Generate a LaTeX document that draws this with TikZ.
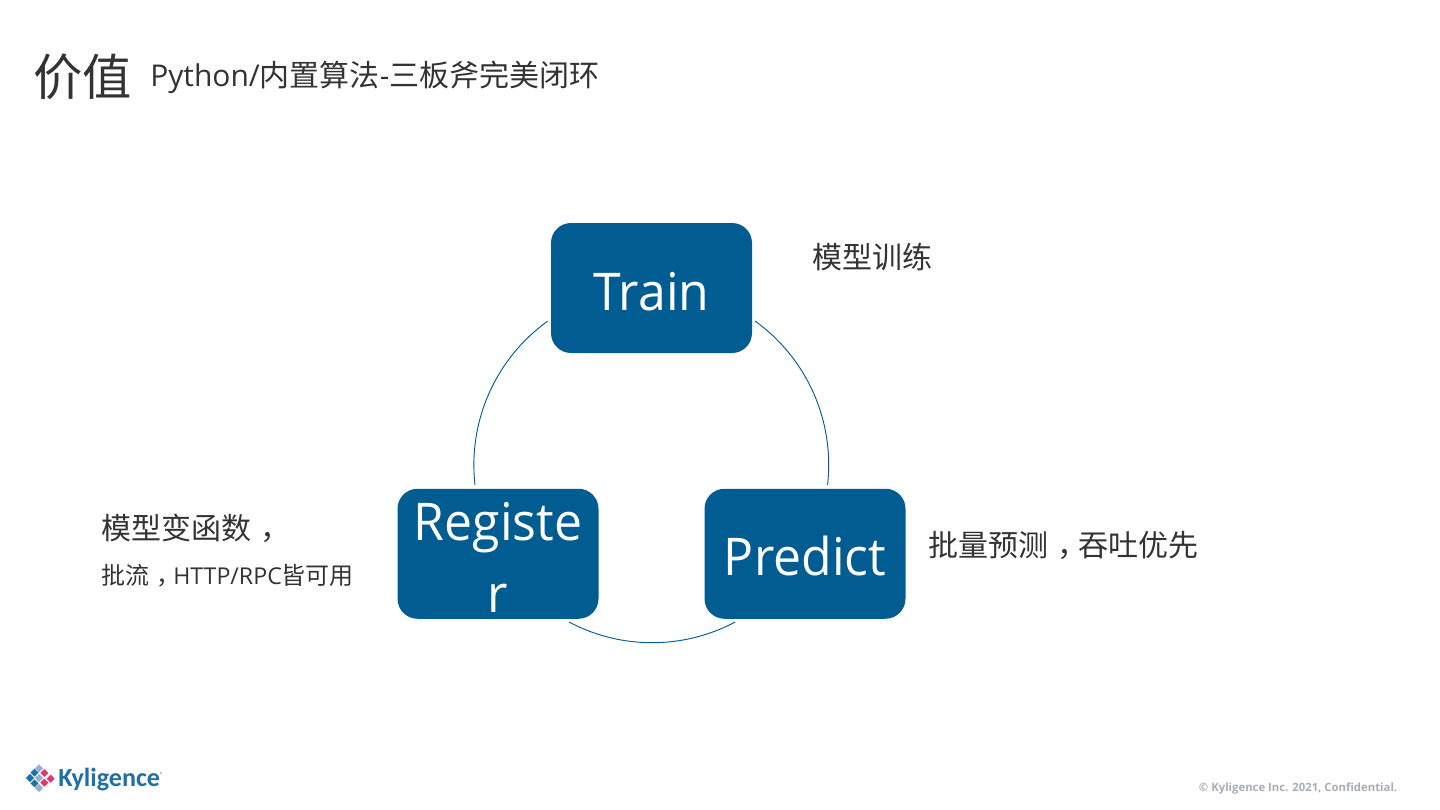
\documentclass[tikz,border=0pt]{standalone}
\usepackage{fontspec}
\setmainfont{Open Sans}
\newfontfamily\cjk{Noto Sans CJK SC}
\newfontfamily\boxfont[FakeStretch=0.96]{Open Sans}
\newfontfamily\logofont{Carlito}
\newcommand{\cc}{\kern0.3em ，\kern-0.3em}
\definecolor{kblue}{HTML}{005C91}
\definecolor{ktext}{HTML}{333333}
\definecolor{kgray}{HTML}{A6AEB4}
\definecolor{kdark}{HTML}{1F6FA8}
\definecolor{klight}{HTML}{8FB2D6}
\definecolor{kpink}{HTML}{E0386F}
\usetikzlibrary{shapes.geometric}
\tikzset{
  px/.style={x=0.75pt,y=-0.75pt},
  box/.style={fill=kblue,rounded corners=15pt,minimum width=150.75pt,minimum height=97.5pt,inner sep=0pt,text=white,font=\fontsize{39}{54}\selectfont\boxfont,align=center},
  lab/.style={anchor=base west,inner sep=0pt,text=ktext},
  ring/.style={draw=kblue,line width=0.7pt},
  dia/.style={diamond,minimum size=6.2pt,inner sep=0pt},
}
\begin{document}
\begin{tikzpicture}[px]
\useasboundingbox (0,0) rectangle (1440,810);
% title
\node[lab,font=\fontsize{37}{40}\selectfont\cjk] (title) at (33,95) {价值};
\node[lab,font=\fontsize{22.5}{26}\selectfont] (sub) at (150,86) {Python/{\cjk 内置算法}-{\cjk 三板斧完美闭环}};
% boxes
\node[box] (train) at (651.5,288) {\smash{\raisebox{-16.5pt}{Train}}};
\node[box] (register) at (498,553.75) {\smash{\raisebox{10.3pt}{\begin{tabular}[t]{@{}c@{}}Registe\\r\end{tabular}}}};
\node[box] (predict) at (805,553.75) {\smash{\raisebox{-16pt}{Predict}}};
% ring ends
\coordinate (a1) at (755,321);
\coordinate (a2) at (569,622);
\coordinate (a3) at (475,485);
\draw[ring] (a1) arc[start angle=-54.3,end angle=6.5,radius=177];
\draw[ring] (a2) arc[start angle=118,end angle=62,radius=177];
\draw[ring] (a3) arc[start angle=173.5,end angle=234.3,radius=177];
% labels
\node[lab,font=\fontsize{22.5}{26}\selectfont\cjk] (l1) at (812,268) {模型训练};
\node[lab,font=\fontsize{22.5}{26}\selectfont\cjk] (l2) at (928,556) {批量预测\cc 吞吐优先};
\node[lab,font=\fontsize{22.5}{26}\selectfont\cjk] (l3) at (101,539) {模型变函数\cc};
\node[lab,font=\fontsize{18}{22}\selectfont] (l4) at (101,584) {{\cjk 批流\cc}\fontsize{17.4}{22}\selectfont HTTP/RPC\fontsize{18}{22}\selectfont{\cjk 皆可用}};
% footer
\node[anchor=base east,inner sep=0pt,text=kgray,font=\fontsize{8.5}{10}\selectfont\bfseries] (foot) at (1397.5,791) {© Kyligence Inc. 2021, Confidential.};
% logo
\foreach \x/\y/\c [count=\i] in {30/778/kdark,34.5/772.7/kdark,39/768.3/klight,34.5/783.3/kdark,39/778/klight,44.3/773/kpink,39/788/klight,44.3/782.7/kpink,50.7/778.7/kpink}
  \node[dia,fill=\c] (d\i) at (\x,\y) {};
\node[anchor=base west,inner sep=0pt,text=kdark,font=\fontsize{19.6}{20}\logofont\bfseries] (logo) at (58,786) {Kyligence\raisebox{7pt}{\fontsize{4}{4}\selectfont ®}};
\end{tikzpicture}
\end{document}
